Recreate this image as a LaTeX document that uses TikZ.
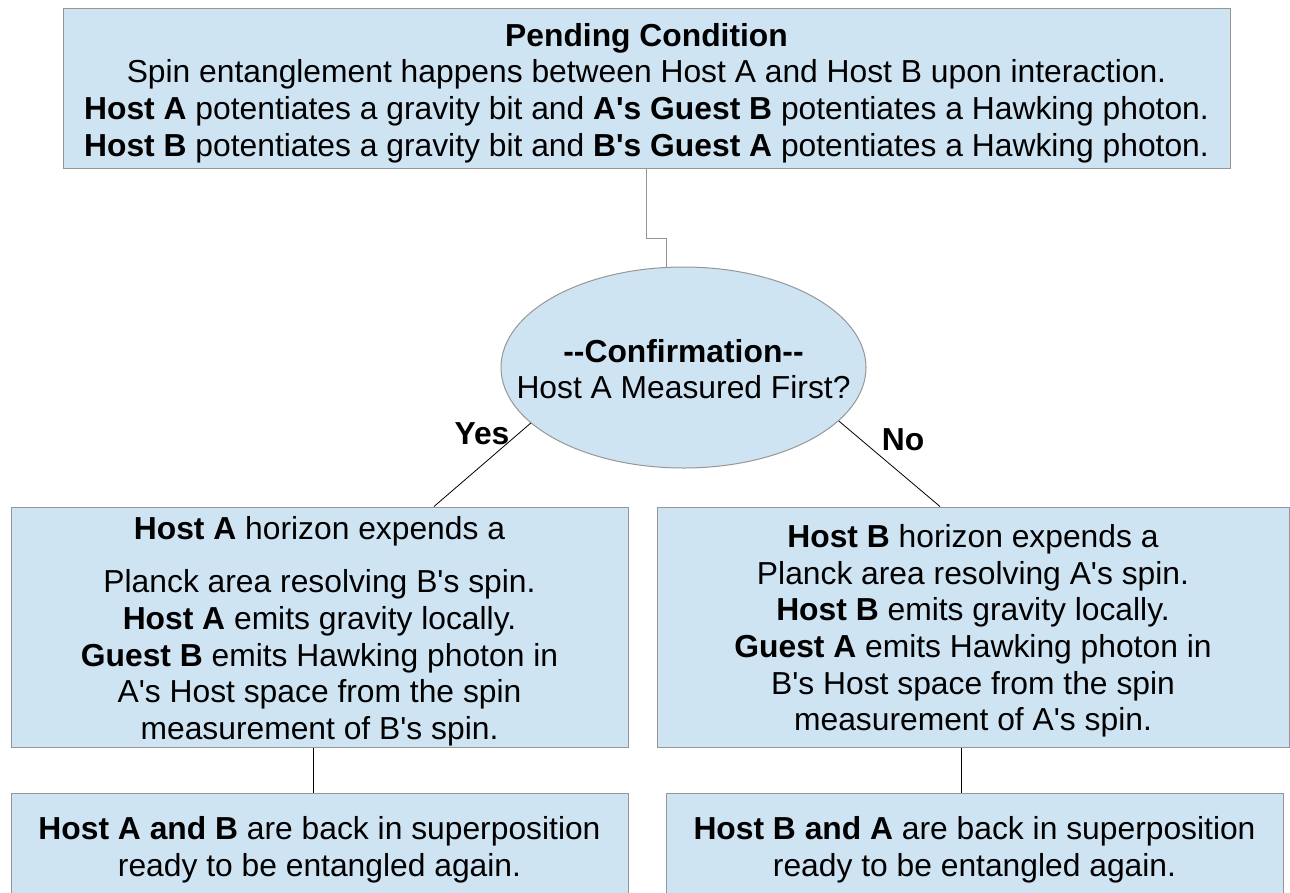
\documentclass[tikz,border=0pt]{standalone}
\usepackage{fontspec}
\setmainfont{Liberation Sans}[Ligatures=TeXOff]
\usetikzlibrary{shapes.geometric}
\definecolor{boxblue}{RGB}{207,228,243}
\definecolor{edgegray}{RGB}{150,150,150}
\newcommand\lowstrut[1]{\rule{0pt}{#1pt}}

\begin{document}
\begin{tikzpicture}[x=1pt,y=-1pt,
  every node/.style={font=\fontsize{31.8}{36.6}\selectfont, align=center, inner sep=0pt},
  panel/.style={rectangle, draw=edgegray, fill=boxblue, line width=1pt},
  decision/.style={ellipse, draw=edgegray, fill=boxblue, line width=1pt},
  wire/.style={draw=black, line width=0.8pt}]
\clip (0,0) rectangle (1290,892);
  % pending condition
  \node[panel, minimum width=1167, minimum height=160] (pend) at (646.5,88)
    {\lowstrut{33}\textbf{Pending Condition}\\
     Spin entanglement happens between Host A and Host B upon interaction.\\
     \textbf{Host A} potentiates a gravity bit and \textbf{A's Guest B} potentiates a Hawking photon.\\
     \textbf{Host B} potentiates a gravity bit and \textbf{B's Guest A} potentiates a Hawking photon.};
  \node[decision, minimum width=365, minimum height=201] (conf) at (683.5,367.5) {};
  \node (conftext) at (conf.center)
    {\lowstrut{26}\textbf{--Confirmation--}\\Host A Measured First?};
  \coordinate (bend) at (666,238);
  \draw[draw=edgegray, line width=0.8pt] (pend.south) |- (bend) -- (bend |- conf.north);
  % the two outcomes
  \node[panel, minimum width=617, minimum height=240] (hostA) at (319.5,627)
    {\lowstrut{31}\textbf{Host A} horizon expends a\\[17pt]
     Planck area resolving B's spin.\\
     \textbf{Host A} emits gravity locally.\\
     \textbf{Guest B} emits Hawking photon in\\
     A's Host space from the spin\\
     measurement of B's spin.};
  \node[panel, minimum width=632, minimum height=240] (hostB) at (973,627)
    {\lowstrut{31}\textbf{Host B} horizon expends a\\
     Planck area resolving A's spin.\\
     \textbf{Host B} emits gravity locally.\\
     \textbf{Guest A} emits Hawking photon in\\
     B's Host space from the spin\\
     measurement of A's spin.};
  \draw[wire] (conf.200) -- ([xshift=114.5]hostA.north);
  \draw[wire] (conf.341) -- ([xshift=-33]hostB.north);
  \node[font=\fontsize{31.8}{36.6}\selectfont\bfseries] (yes) at (482,434) {Yes};
  \node[font=\fontsize{31.8}{36.6}\selectfont\bfseries] (no) at (903,440) {No};
  % back to superposition
  \node[panel, minimum width=617, minimum height=107] (resetA) at (319.5,846.5)
    {\lowstrut{29}\textbf{Host A and B} are back in superposition\\ready to be entangled again.};
  \node[panel, minimum width=617, minimum height=107] (resetB) at (974.5,846.5)
    {\lowstrut{29}\textbf{Host B and A} are back in superposition\\ready to be entangled again.};
  \draw[wire] ([xshift=-6.5]hostA.south) -- ([xshift=-6.5]resetA.north);
  \draw[wire] ([xshift=-12]hostB.south) -- ([xshift=-13.5]resetB.north);
\end{tikzpicture}
\end{document}
